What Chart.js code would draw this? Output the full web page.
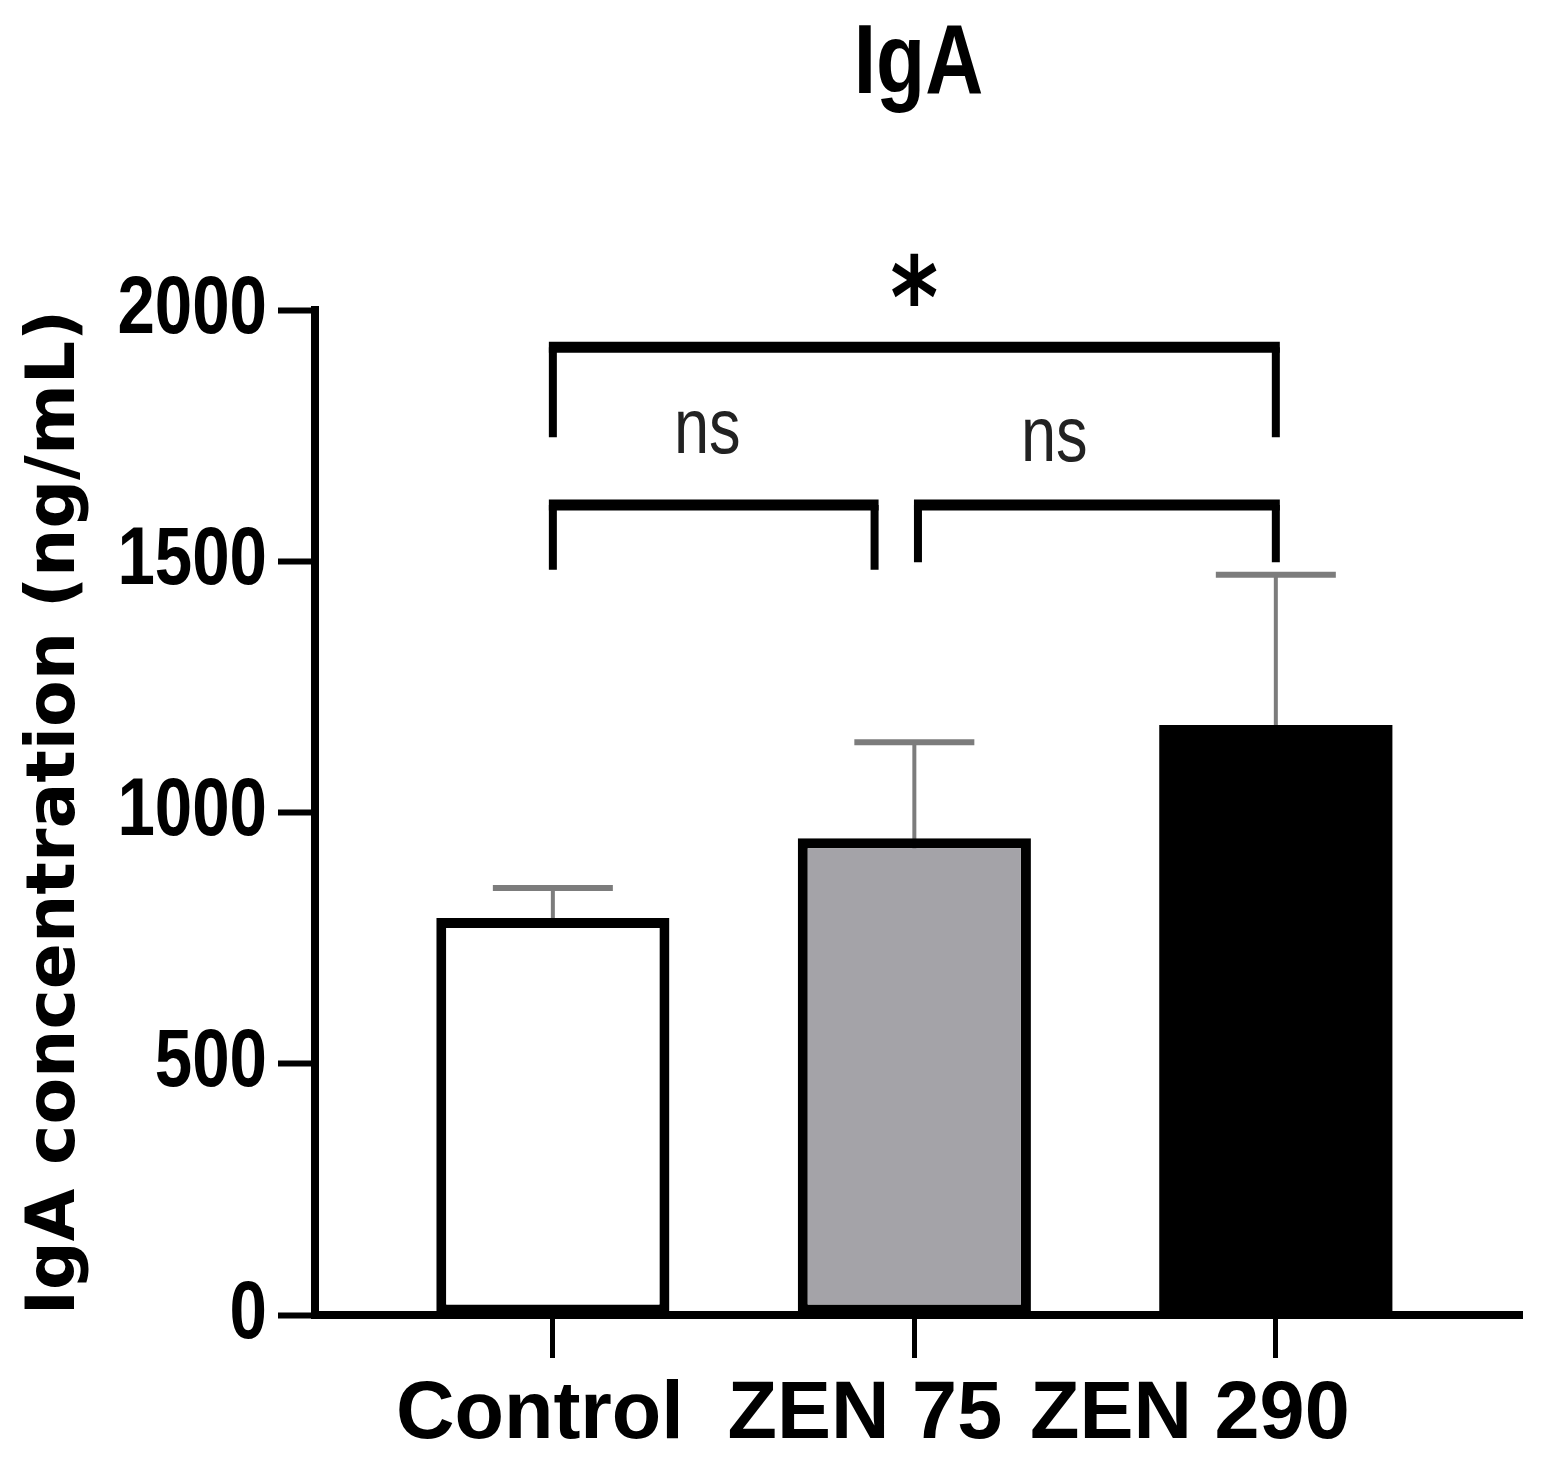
<!DOCTYPE html>
<html>
<head>
<meta charset="utf-8">
<script src="https://cdn.jsdelivr.net/npm/chart.js@4.4.1/dist/chart.umd.min.js"></script>
<style>
  html, body { margin: 0; padding: 0; background: #fff; }
  #wrap { width: 1542px; height: 1473px; }
</style>
</head>
<body>
<div id="wrap"><canvas id="igaChart"></canvas></div>
<script>
const chartTitle = 'IgA';
const groups = ['Control', 'ZEN 75', 'ZEN 290'];
const means = [790, 949, 1174];
const errors = [60, 191, 299];
const yTicks = [0, 500, 1000, 1500, 2000];
// pairwise comparisons: [group a, group b, result]
const comparisons = [
  ['Control', 'ZEN 290', '*'],
  ['Control', 'ZEN 75', 'ns'],
  ['ZEN 75', 'ZEN 290', 'ns']
];

const SANS = "'Liberation Sans', Arial, sans-serif";
const SQUEEZE = 0.82; // the original uses a narrow face; no narrow font here, so squash

// draw text squashed horizontally, anchored at (x, y)
function narrowText(ctx, text, x, y, font, align, baseline) {
  ctx.save();
  ctx.font = font;
  ctx.textAlign = align;
  ctx.textBaseline = baseline;
  ctx.scale(SQUEEZE, 1);
  ctx.fillText(text, x / SQUEEZE, y);
  ctx.restore();
}

// centre text on its ink box (optionally squashed)
function inkText(ctx, text, cx, cy, sx) {
  ctx.save();
  ctx.textAlign = 'left';
  ctx.textBaseline = 'alphabetic';
  ctx.scale(sx, 1);
  const m = ctx.measureText(text);
  const x = cx / sx - (m.actualBoundingBoxRight - m.actualBoundingBoxLeft) / 2;
  const y = cy + (m.actualBoundingBoxAscent - m.actualBoundingBoxDescent) / 2;
  ctx.fillText(text, x, y);
  ctx.restore();
}

const narrowLabels = {
  id: 'narrowLabels',
  afterDraw(chart, args, opts) {
    const {ctx, chartArea, scales: {y}} = chart;
    ctx.fillStyle = '#000';
    const gx = y.right - y.options.grid.tickLength - opts.tickPadding;
    y.ticks.forEach((t, i) => {
      narrowText(ctx, String(t.value), gx, y.getPixelForTick(i), opts.tickFont, 'right', 'middle');
    });
    narrowText(ctx, chartTitle, (chartArea.left + chartArea.right) / 2, opts.titleY, opts.titleFont, 'center', 'middle');
  }
};

const errorBars = {
  id: 'errorBars',
  beforeDatasetsDraw(chart, args, opts) {
    const ctx = chart.ctx, y = chart.scales.y;
    chart.getDatasetMeta(0).data.forEach((bar, i) => {
      const top = y.getPixelForValue(means[i] + errors[i]);
      ctx.save();
      ctx.strokeStyle = opts.color;
      ctx.lineWidth = opts.width;
      ctx.beginPath();
      ctx.moveTo(bar.x, bar.y + 20);
      ctx.lineTo(bar.x, top);
      ctx.stroke();
      ctx.lineWidth = opts.capWidth;
      ctx.beginPath();
      ctx.moveTo(bar.x - opts.cap / 2, top);
      ctx.lineTo(bar.x + opts.cap / 2, top);
      ctx.stroke();
      ctx.restore();
    });
  }
};

const sigBrackets = {
  id: 'sigBrackets',
  afterDraw(chart, args, opts) {
    const {ctx, scales: {x, y}} = chart;
    comparisons.forEach((c, k) => {
      const g = opts.geometry[k];
      const xa = x.getPixelForValue(groups.indexOf(c[0]) + g.trim[0]);
      const xb = x.getPixelForValue(groups.indexOf(c[1]) + g.trim[1]);
      const yb = y.getPixelForValue(g.level);
      ctx.save();
      ctx.strokeStyle = '#000';
      ctx.lineWidth = opts.legWidth;
      ctx.beginPath();
      ctx.moveTo(xa, yb);
      ctx.lineTo(xa, y.getPixelForValue(g.legs[0]));
      ctx.moveTo(xb, yb);
      ctx.lineTo(xb, y.getPixelForValue(g.legs[1]));
      ctx.stroke();
      ctx.lineWidth = opts.barWidth;
      ctx.beginPath();
      ctx.moveTo(xa - opts.legWidth / 2, yb);
      ctx.lineTo(xb + opts.legWidth / 2, yb);
      ctx.stroke();
      const star = c[2] === '*';
      ctx.fillStyle = star ? '#000' : '#222';
      ctx.font = star ? "bold 112px 'DejaVu Sans'" : '77px ' + SANS;
      inkText(ctx, c[2], x.getPixelForValue(g.text[0]), y.getPixelForValue(g.text[1]), SQUEEZE);
      ctx.restore();
    });
  }
};

const groupTicks = scale => { scale.ticks = groups.map((g, i) => ({value: i})); };

new Chart(document.getElementById('igaChart'), {
  type: 'bar',
  data: {
    datasets: [{
      data: means.map((m, i) => ({x: i, y: m})),
      backgroundColor: ['#ffffff', '#a4a3a8', '#000000'],
      borderColor: '#000',
      borderWidth: [10, 10, 0],
      borderSkipped: false,
      barPercentage: 0.645,
      categoryPercentage: 1
    }]
  },
  plugins: [errorBars, sigBrackets, narrowLabels],
  options: {
    responsive: true,
    maintainAspectRatio: false,
    animation: false,
    layout: {padding: {top: 310, left: 0, right: 20, bottom: 0}},
    plugins: {
      legend: {display: false},
      tooltip: {enabled: false},
      title: {display: false},
      narrowLabels: {
        tickPadding: 11,
        tickFont: 'bold 82px ' + SANS,
        titleFont: 'bold 98px ' + SANS,
        titleY: 66
      },
      errorBars: {color: '#7c7c7c', width: 4, capWidth: 6, cap: 120},
      sigBrackets: {
        legWidth: 8, barWidth: 11,
        geometry: [
          {trim: [0, 0], level: 1926, legs: [1747, 1747], text: [1, 2060]},
          {trim: [0, -0.11], level: 1612, legs: [1483, 1483], text: [0.43, 1757]},
          {trim: [0.01, 0], level: 1612, legs: [1498, 1498], text: [1.39, 1741]}
        ]
      }
    },
    scales: {
      x: {
        type: 'linear', position: 'bottom', min: -0.658, max: 2.681,
        offset: false,
        afterBuildTicks: groupTicks,
        ticks: {display: false},
        grid: {offset: false, drawOnChartArea: false, tickLength: 43, tickWidth: 5, tickColor: '#000'},
        border: {display: true, color: '#000', width: 8}
      },
      xl: {
        type: 'linear', position: 'bottom', min: -0.692, max: 3.022,
        offset: false,
        afterBuildTicks: groupTicks,
        ticks: {
          color: '#000', padding: 8.9, maxRotation: 0, autoSkip: false,
          font: {family: SANS, size: 81, weight: 'bold', lineHeight: 1.2},
          callback: v => groups[v]
        },
        grid: {display: false, offset: false, drawTicks: false},
        border: {display: false}
      },
      y: {
        min: 0, max: 2000,
        afterBuildTicks: scale => { scale.ticks = yTicks.map(v => ({value: v})); },
        afterFit: scale => { scale.width = 315; },
        ticks: {display: false},
        grid: {drawOnChartArea: false, tickLength: 37, tickWidth: 6, tickColor: '#000'},
        border: {color: '#000', width: 8},
        title: {
          display: true, text: 'IgA concentration (ng/mL)', color: '#000',
          font: {family: "'DejaVu Sans', sans-serif", size: 68, weight: 'bold', lineHeight: 1.2},
          padding: {top: 16, bottom: 0}
        }
      }
    }
  }
});
</script>
</body>
</html>
